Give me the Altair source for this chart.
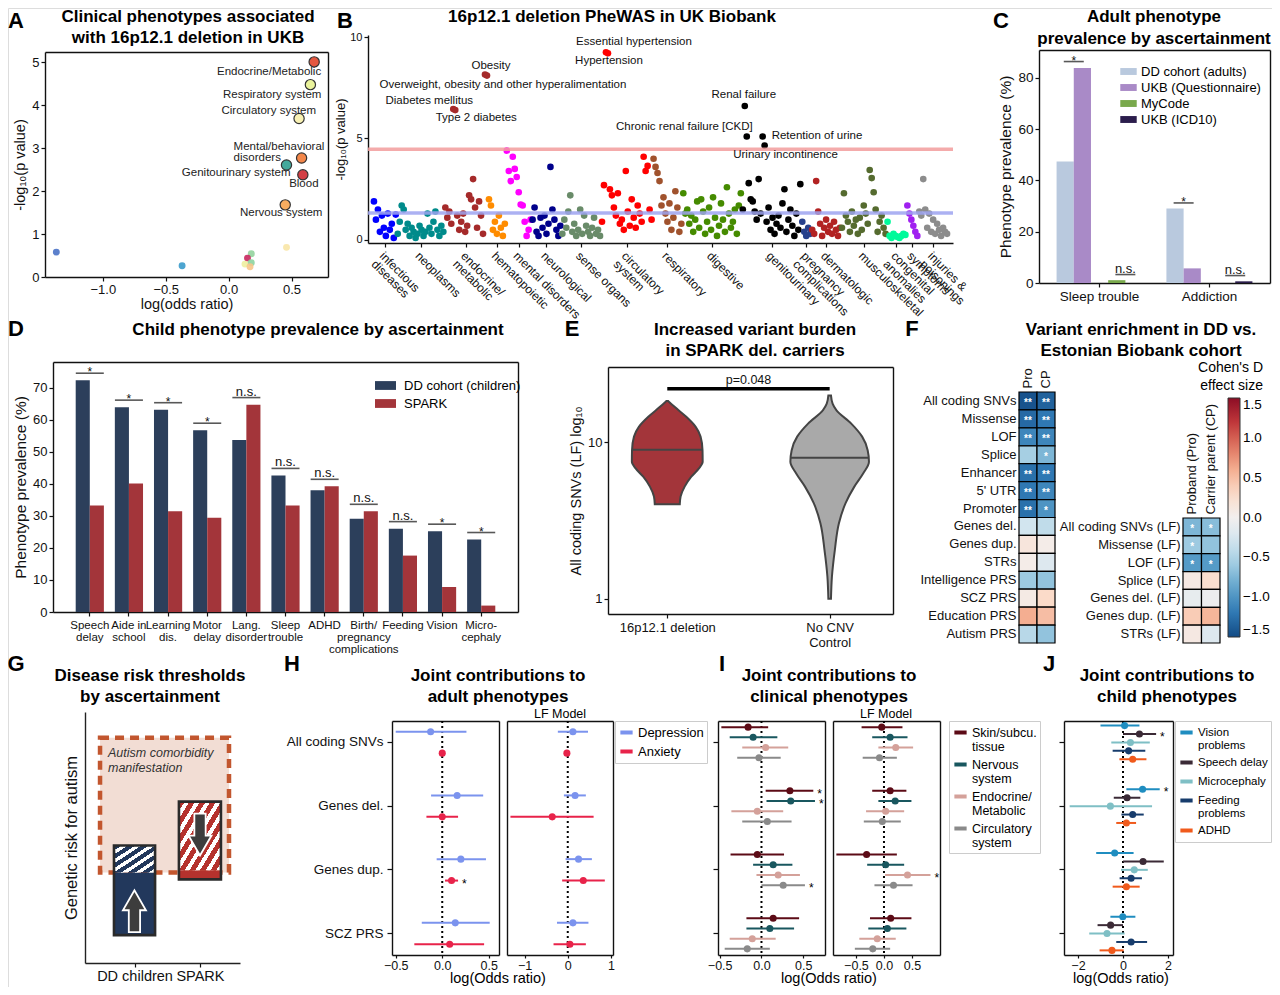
import json
import altair as alt
import pandas as pd

W, HT = 1264, 979
FONT = "Liberation Sans"
INK = "#111111"
ONE = alt.Data(values=[{"k": 0}])


def X(p):
    return p - 8


def Y(p):
    return p - 8


def axis(orient, pos, **kw):
    off = {"left": -X(pos), "right": X(pos) - W, "top": -Y(pos), "bottom": Y(pos) - HT}[orient]
    base = dict(orient=orient, offset=off, grid=False, domainColor=INK, domainWidth=1.4,
                tickColor=INK, tickWidth=1.2, tickSize=4, labelColor=INK, titleColor=INK,
                labelFont=FONT, titleFont=FONT, labelFontSize=12, titleFontSize=13.5,
                titleFontWeight="normal", labelPadding=2, titlePadding=4, title=None)
    base.update(kw)
    return alt.Axis(**base)


def frame(orient, pos):
    return axis(orient, pos, labels=False, ticks=False, title=None)


def txt(s, x, y, size=17, weight="bold", align="center", style=None, color="#000000", lh=None):
    mk = dict(font=FONT, fontSize=size, fontWeight=weight, align=align, baseline="middle", color=color)
    if style:
        mk["fontStyle"] = style
    if lh:
        mk["lineHeight"] = lh
    return alt.Chart(ONE).mark_text(**mk).encode(x=alt.value(X(x)), y=alt.value(Y(y)), text=alt.value(s))


def qs(dom, r0, r1, **kw):
    return alt.Scale(domain=dom, range=[r0, r1], nice=False, zero=False, **kw)


SPLIT = "split(datum.label, '\\n')"
RECT = "M-1,-0.42L1,-0.42L1,0.42L-1,0.42Z"

# ====================== DATA ======================
# A
A_name = ["Endocrine/Metabolic", "Respiratory system", "Circulatory system",
          "Mental/behavioral disorders", "Genitourinary system", "Blood", "Nervous system",
          "other 1", "other 2", "other 3", "other 4", "other 5", "other 6", "other 7", "other 8"]
A_lor = [0.68, 0.65, 0.56, 0.58, 0.46, 0.59, 0.45, -1.37, -0.37, 0.18, 0.15, 0.13, 0.18, 0.17, 0.46]
A_nlp = [5.01, 4.48, 3.69, 2.77, 2.61, 2.38, 1.68, 0.58, 0.26, 0.54, 0.44, 0.30, 0.33, 0.24, 0.69]
A_col = ["#e4573f", "#eaf39c", "#f8f1b4", "#f3874a", "#43a99c", "#d33f45", "#f8ad60",
         "#4a72c6", "#3a9bcb", "#93d39d", "#c8285e", "#eeee9e", "#8dd4a0", "#f7c58a", "#f8e6a6"]
A_lab = [True] * 7 + [False] * 8

# B
B_cats = ["infectious\ndiseases", "neoplasms", "endocrine/\nmetabolic", "hematopoietic",
          "mental disorders", "neurological", "sense organs", "circulatory\nsystem", "respiratory",
          "digestive", "genitourinary", "pregnancy\ncomplications", "dermatologic",
          "musculoskeletal", "congenital\nanomalies", "symptoms", "injuries &\npoisonings"]
B_colors = ["#0000ff", "#008b8b", "#a52a2a", "#ff8c00", "#ff00ff", "#00008b", "#698b69",
            "#ff0000", "#a0522d", "#458b00", "#000000", "#27408b", "#b22222", "#556b2f",
            "#00fa9a", "#a020f0", "#8c8c8c"]
B_vals = [
    [1.9, 1.0, 1.5, 0.4, 1.2, 0.6, 0.2, 1.3, 0.5, 0.8, 0.1, 1.25],
    [0.3, 0.9, 1.7, 1.5, 0.5, 0.8, 0.2, 0.6, 0.4, 0.1, 0.3, 0.7, 0.5, 0.2, 0.4, 1.3, 0.6, 0.3,
     0.9, 1.4, 0.5, 0.2, 0.7, 0.4],
    [1.6, 1.1, 1.4, 0.8, 6.45, 6.4, 1.2, 0.5, 0.9, 1.3, 0.4, 0.7, 2.2, 2.0, 3.0, 1.6, 0.6, 1.9,
     1.2, 0.3, 8.15, 8.1],
    [2.0, 1.7, 0.5, 0.9, 0.3, 1.2, 0.6, 0.2, 0.8],
    [4.4, 3.4, 2.9, 4.1, 3.5, 3.1, 2.35, 1.75, 1.7, 0.9, 0.2, 0.5, 1.0],
    [1.0, 1.6, 0.4, 0.2, 1.1, 0.6, 1.2, 0.3, 0.8, 3.6, 1.5, 1.0, 0.5, 0.2, 0.7],
    [0.3, 1.0, 0.6, 1.4, 2.2, 0.4, 0.8, 0.2, 0.5, 1.5, 0.3, 1.2, 0.7, 0.4, 0.2, 0.6, 1.1, 0.3,
     0.5, 0.2],
    [0.9, 2.7, 9.25, 9.2, 2.5, 2.2, 1.6, 1.2, 2.3, 0.8, 1.0, 0.5, 3.4, 1.4, 0.7, 2.0, 1.1, 0.6,
     1.7, 1.3, 0.9, 4.1, 3.4, 3.65, 1.5, 1.0],
    [4.0, 3.6, 3.3, 2.9, 1.7, 2.1, 1.3, 0.9, 1.8, 0.5, 1.1, 2.4, 1.6, 0.4, 0.8],
    [2.3, 1.3, 1.5, 0.8, 1.2, 0.4, 1.0, 1.9, 0.6, 2.0, 1.4, 0.3, 0.9, 1.6, 0.5, 2.1, 1.1, 0.2,
     0.7, 1.8, 1.0, 0.4, 2.6, 1.3, 0.6, 0.9, 1.5, 0.3, 1.7, 2.3],
    [1.5, 6.6, 5.1, 2.8, 2.0, 1.9, 1.4, 1.0, 3.0, 1.3, 5.1, 4.65, 0.9, 1.6, 0.5, 1.1, 0.3, 0.8,
     1.2, 0.6, 1.8, 2.5, 0.4, 1.0, 1.5, 0.7, 0.2, 1.3, 0.5, 2.75],
    [0.9, 0.4, 0.2, 0.6, 0.3],
    [0.5, 0.3, 2.9, 1.4, 0.8, 0.2, 0.6, 1.0, 0.4, 0.7, 0.3, 0.9, 0.5, 0.2, 0.6],
    [0.6, 2.3, 1.2, 0.9, 0.4, 1.4, 0.7, 1.0, 0.3, 1.1, 0.5, 1.7, 1.3, 0.8, 3.45, 3.05, 2.35, 1.5,
     0.4, 0.9, 1.2, 0.6, 0.3],
    [0.9, 0.2, 0.1, 0.3, 0.2, 0.15, 0.1, 0.2, 0.3, 0.25],
    [1.7, 1.3, 1.0, 0.7, 0.4, 0.2],
    [1.4, 1.2, 3.0, 1.5, 0.6, 1.3, 0.4, 1.0, 0.3, 0.8, 0.5, 0.2, 0.6, 0.4, 0.3],
]
B_hits = ["Essential hypertension", "Hypertension", "Obesity",
          "Overweight, obesity and other hyperalimentation", "Diabetes mellitus",
          "Type 2 diabetes", "Renal failure", "Chronic renal failure [CKD]",
          "Retention of urine", "Urinary incontinence"]
B_hit_cat = [7, 7, 2, 2, 2, 2, 10, 10, 10, 10]
B_hit_pos = [2, 3, 20, 21, 4, 5, 1, 2, 10, 11]
B_red_line = 4.47
B_blue_line = 1.33

# C
C_groups = ["Sleep trouble", "Addiction"]
C_series = ["DD cohort (adults)", "UKB (Questionnaire)", "MyCode", "UKB (ICD10)"]
C_slots = ["DD cohort (adults)", "UKB (Questionnaire)", " ", "MyCode", "UKB (ICD10)"]
C_colors = ["#b9c9de", "#a98ac7", "#79a94c", "#2b1d4c"]
C_sleep = [47.3, 83.8, 1.1, 0.0]
C_addict = [29.0, 5.7, 0.0, 0.65]
C_sig_group = ["Sleep trouble", "Sleep trouble", "Addiction", "Addiction"]
C_sig_pair = ["first", "last", "first", "last"]
C_sig_y = [86.3, 3.3, 31.2, 2.9]
C_sig_txt = ["*", "n.s.", "*", "n.s."]

# D
D_cats = ["Speech\ndelay", "Aide in\nschool", "Learning\ndis.", "Motor\ndelay", "Lang.\ndisorder",
          "Sleep\ntrouble", "ADHD", "Birth/\npregnancy\ncomplications", "Feeding", "Vision",
          "Micro-\ncephaly"]
D_groups = ["DD cohort (children)", "SPARK"]
D_colors = ["#2c3f5b", "#a3353a"]
D_dd = [72.3, 63.9, 63.1, 56.7, 53.7, 42.6, 38.0, 29.1, 26.0, 25.2, 22.6]
D_spark = [33.2, 40.1, 31.4, 29.4, 64.7, 33.2, 39.2, 31.4, 17.6, 7.8, 2.0]
D_sig = ["*", "*", "*", "*", "n.s.", "n.s.", "n.s.", "n.s.", "n.s.", "*", "*"]

# E
E_groups = ["16p12.1 deletion", "No CNV\nControl"]
E_colors = ["#a3353a", "#a9a9a9"]
E_del_v = [18.4, 16.9, 14.6, 12.6, 10.9, 8.93, 7.53, 6.83, 6.04, 5.22, 4.51, 4.03]
E_del_hw = [0.006, 0.045, 0.117, 0.175, 0.205, 0.217, 0.218, 0.195, 0.148, 0.107, 0.082, 0.077]
E_ctl_v = [20.0, 17.7, 16.1, 13.2, 10.9, 8.93, 7.53, 6.35, 5.22, 4.09, 3.05, 2.06, 1.39, 1.0]
E_ctl_hw = [0.008, 0.018, 0.041, 0.133, 0.2, 0.234, 0.242, 0.207, 0.152, 0.098, 0.057, 0.032,
            0.014, 0.008]
E_median = [9.0, 8.0]
E_median_hw = [0.216, 0.240]
E_p_y = 22.1
E_p_text = "p=0.048"

# F
F_rows = ["All coding SNVs", "Missense", "LOF", "Splice", "Enhancer", "5' UTR", "Promoter",
          "Genes del.", "Genes dup.", "STRs", "Intelligence PRS", "SCZ PRS", "Education PRS",
          "Autism PRS"]
F_pro = [-1.45, -1.3, -1.1, -0.55, -1.25, -1.2, -1.25, -0.3, 0.15, 0.05, -0.6, 0.08, 0.6, -0.45]
F_cp = [-1.35, -1.2, -1.1, -0.75, -1.2, -1.1, -1.0, -0.4, 0.05, -0.2, -0.65, 0.3, 0.5, -0.65]
F_pro_sig = ["**", "**", "**", "", "**", "**", "**", "", "", "", "", "", "", ""]
F_cp_sig = ["**", "**", "**", "*", "**", "**", "*", "", "", "", "", "", "", ""]
F2_rows = ["All coding SNVs (LF)", "Missense (LF)", "LOF (LF)", "Splice (LF)", "Genes del. (LF)",
           "Genes dup. (LF)", "STRs (LF)"]
F2_pro = [-0.75, -0.6, -0.95, 0.1, -0.1, 0.4, 0.1]
F2_cp = [-0.7, -0.65, -0.95, 0.25, -0.05, 0.55, -0.2]
F2_pro_sig = ["*", "*", "*", "", "", "", ""]
F2_cp_sig = ["*", "", "*", "", "", "", ""]

# G (schematic, arbitrary units)
G_groups = ["DD children", "SPARK"]
G_shape = ["region", "dd_base", "dd_hatch", "spark_hatch", "spark_base", "dd_box", "spark_box"]
G_x0 = [0.97, 1.87, 1.87, 6.06, 6.06, 1.87, 6.06]
G_x1 = [9.29, 4.52, 4.52, 8.77, 8.77, 4.52, 8.77]
G_y0 = [3.61, 1.11, 3.61, 3.69, 3.33, 1.11, 3.33]
G_y1 = [8.97, 3.61, 4.68, 6.43, 3.69, 4.68, 6.43]
G_arrow_x = [3.19, 7.42]
G_arrow_y = [2.06, 5.12]

# H
H_rows = ["All coding SNVs", "Genes del.", "Genes dup.", "SCZ PRS"]
H_series = ["Depression", "Anxiety"]
H_colors = ["#7b93ee", "#e8234a"]
H_main = {"Depression": ([-0.125, 0.16, 0.20, 0.14], [-0.50, -0.12, -0.06, -0.22], [0.26, 0.44, 0.47, 0.51]),
          "Anxiety": ([0.0, 0.0, 0.10, 0.08], [-0.012, -0.17, 0.03, -0.30], [0.012, 0.17, 0.17, 0.45])}
H_main_star = {"Anxiety": ["", "", "*", ""]}
H_lf = {"Depression": ([0.12, 0.17, 0.25, 0.12], [-0.23, -0.09, -0.05, -0.25], [0.47, 0.42, 0.56, 0.48]),
        "Anxiety": ([-0.02, -0.36, 0.36, 0.05], [-0.035, -1.33, -0.13, -0.33], [-0.005, 0.60, 0.86, 0.42])}

# I
I_series = ["Skin/subcu.\ntissue", "Nervous\nsystem", "Endocrine/\nMetabolic", "Circulatory\nsystem"]
I_colors = ["#5c0b16", "#19575f", "#d4a19a", "#8a8a8a"]
I_main = {
    I_series[0]: ([-0.16, 0.34, -0.05, 0.14], [-0.48, 0.05, -0.37, -0.18], [0.08, 0.62, 0.27, 0.45]),
    I_series[1]: ([-0.10, 0.35, 0.14, 0.10], [-0.38, 0.06, -0.10, -0.18], [0.19, 0.64, 0.37, 0.39]),
    I_series[2]: ([0.05, -0.05, 0.20, -0.11], [-0.23, -0.36, -0.06, -0.38], [0.32, 0.26, 0.46, 0.17]),
    I_series[3]: ([-0.03, 0.07, 0.26, -0.17], [-0.29, -0.23, 0.0, -0.44], [0.23, 0.36, 0.52, 0.10]),
}
I_main_star = {I_series[0]: ["", "*", "", ""], I_series[1]: ["", "*", "", ""],
               I_series[3]: ["", "", "*", ""]}
I_lf = {
    I_series[0]: ([-0.04, 0.11, -0.31, 0.12], [-0.40, -0.21, -0.85, -0.25], [0.33, 0.40, 0.23, 0.49]),
    I_series[1]: ([0.11, 0.20, 0.03, 0.06], [-0.21, -0.10, -0.30, -0.28], [0.42, 0.49, 0.36, 0.40]),
    I_series[2]: ([0.21, 0.03, 0.42, -0.12], [-0.10, -0.32, 0.02, -0.44], [0.52, 0.36, 0.83, 0.21]),
    I_series[3]: ([-0.08, -0.03, 0.17, -0.20], [-0.38, -0.36, -0.17, -0.52], [0.23, 0.30, 0.51, 0.11]),
}
I_lf_star = {I_series[2]: ["", "", "*", ""]}

# J
J_series = ["Vision\nproblems", "Speech delay", "Microcephaly", "Feeding\nproblems", "ADHD"]
J_colors = ["#1f8dc0", "#3b2a36", "#7fbfc5", "#173c6c", "#f05a1c"]
J_main = {
    J_series[0]: ([0.07, 0.87, -0.37, -0.01], [-1.0, 0.15, -1.19, -0.56], [0.73, 1.63, 0.47, 0.55]),
    J_series[1]: ([0.73, 0.18, 0.89, -0.55], [0.0, -0.41, 0.0, -1.13], [1.47, 0.77, 1.81, 0.0]),
    J_series[2]: ([0.33, -0.56, 0.50, -0.71], [-0.52, -2.37, -0.09, -1.50], [1.19, 1.29, 1.10, 0.07]),
    J_series[3]: ([0.25, 0.43, 0.36, 0.36], [-0.46, -0.07, -0.15, -0.30], [0.99, 0.92, 0.84, 1.07]),
    J_series[4]: ([0.43, 0.15, 0.15, -0.49], [-0.16, -0.30, -0.46, -1.04], [1.04, 0.58, 0.74, 0.03]),
}
J_star = {J_series[0]: ["", "*", "", ""], J_series[1]: ["*", "", "", ""]}

panels = []

# ====================== PANEL A ======================
a_df = pd.DataFrame(dict(name=A_name, lor=A_lor, nlp=A_nlp, lab=A_lab))
ax_ = qs([-1.46, 0.79], X(45), X(328))
ay_ = qs([0, 5.24], Y(277), Y(52))
acol = alt.Color("name:N", scale=alt.Scale(domain=A_name, range=A_col), legend=None)
bA = alt.Chart(a_df)
a_layers = [
    bA.transform_filter("!datum.lab").mark_circle(size=48, opacity=0.9).encode(
        x=alt.X("lor:Q", scale=ax_, axis=axis("bottom", 277, values=[-1, -0.5, 0, 0.5], format=".1f",
                                             title="log(odds ratio)", labelFontSize=13, titleFontSize=14.5,
                                             titlePadding=1)),
        y=alt.Y("nlp:Q", scale=ay_, axis=axis("left", 45, values=[0, 1, 2, 3, 4, 5], labelFontSize=13,
                                             title="-log₁₀(p value)", titleFontSize=14.5)),
        color=acol),
    bA.transform_filter("datum.lab").mark_circle(size=105, opacity=1, stroke="#333333", strokeWidth=1.2).encode(
        x=alt.X("lor:Q", scale=ax_, axis=frame("top", 52)),
        y=alt.Y("nlp:Q", scale=ay_, axis=frame("right", 328)),
        color=acol),
]
A_label_style = {
    "Endocrine/Metabolic": ("right", 7, 10),
    "Respiratory system": ("right", 11, 10),
    "Circulatory system": ("right", 17, -8),
    "Mental/behavioral disorders": ("left", -68, -11),
    "Genitourinary system": ("right", 4, 8),
    "Blood": ("center", 1, 9),
    "Nervous system": ("center", -4, 8),
}
for nm, (al, ddx, ddy) in A_label_style.items():
    disp = ["Mental/behavioral", "disorders"] if nm.startswith("Mental") else nm
    a_layers.append(bA.transform_filter(alt.datum.name == nm).mark_text(
        align=al, dx=ddx, dy=ddy, fontSize=11.5, font=FONT, color="#222222", baseline="middle",
        lineHeight=10.5).encode(
        x=alt.X("lor:Q", scale=ax_, axis=None), y=alt.Y("nlp:Q", scale=ay_, axis=None),
        text=alt.value(disp)))
panels.append(alt.layer(*a_layers).resolve_axis(x="independent", y="independent"))

# ====================== PANEL B ======================
recs = []
centers = []
idx = 0
for c, vals in zip(B_cats, B_vals):
    centers.append(idx + (len(vals) - 1) / 2)
    for v in vals:
        recs.append(dict(i=idx, cat=c, v=v, hit=""))
        idx += 1
starts = [0]
for vals in B_vals[:-1]:
    starts.append(starts[-1] + len(vals))
for h, ci, p in zip(B_hits, B_hit_cat, B_hit_pos):
    recs[starts[ci] + p]["hit"] = h
b_df = pd.DataFrame(recs)
B_dom = [-3, idx + 2]
bx_ = qs(B_dom, X(368), X(953))
by_ = qs([-0.15, 10.1], Y(243), Y(35))
b_label_expr = "split(%s[indexof(%s, datum.value)], '\\n')" % (json.dumps(B_cats), json.dumps(centers))
bB = alt.Chart(b_df)
b_layers = [
    bB.mark_circle(size=44, opacity=1).encode(
        x=alt.X("i:Q", scale=bx_, axis=axis("bottom", 243, values=centers, labelExpr=b_label_expr,
                                           labelAngle=45, labelAlign="left", labelBaseline="top",
                                           labelFontSize=12, labelLineHeight=11.5, labelPadding=3,
                                           labelOverlap=False, labelBound=False)),
        y=alt.Y("v:Q", scale=by_, axis=axis("left", 368, values=[0, 5, 10], labelFontSize=11,
                                           title="-log₁₀(p value)", titleFontSize=13, titlePadding=2)),
        color=alt.Color("cat:N", scale=alt.Scale(domain=B_cats, range=B_colors), legend=None)),
]
for yv, colr in [(B_red_line, "#f29c9c"), (B_blue_line, "#9ea3f0")]:
    b_layers.append(alt.Chart(ONE).mark_rule(color=colr, strokeWidth=3.5, opacity=0.85).encode(
        x=alt.XDatum(B_dom[0], scale=bx_, axis=None), x2=alt.X2Datum(B_dom[1]),
        y=alt.YDatum(yv, scale=by_, axis=None)))
B_label_style = {
    "Essential hypertension": ("center", 28, -10),
    "Hypertension": ("center", 1, 8),
    "Obesity": ("center", 6, -9),
    "Overweight, obesity and other hyperalimentation": ("center", 16, 9),
    "Diabetes mellitus": ("center", -24, -8),
    "Type 2 diabetes": ("center", 21, 8),
    "Renal failure": ("center", -1, -11),
    "Chronic renal failure [CKD]": ("right", 6, -9),
    "Retention of urine": ("left", 9, 0),
    "Urinary incontinence": ("center", 21, 9),
}
for h, (al, ddx, ddy) in B_label_style.items():
    b_layers.append(bB.transform_filter(alt.datum.hit == h).mark_text(
        align=al, dx=ddx, dy=ddy, fontSize=11.5, font=FONT, color="#111111", baseline="middle").encode(
        x=alt.X("i:Q", scale=bx_, axis=None), y=alt.Y("v:Q", scale=by_, axis=None), text="hit:N"))
panels.append(alt.layer(*b_layers).resolve_axis(x="independent", y="independent"))

# ====================== PANEL C ======================
c_recs = []
for g, vals in zip(C_groups, [C_sleep, C_addict]):
    for s, v in zip(C_series, vals):
        c_recs.append(dict(g=g, s=s, v=v))
c_df = pd.DataFrame(c_recs)
cx_ = alt.Scale(domain=C_groups, range=[X(1039), X(1270)], paddingInner=0.217, paddingOuter=0.16)
cy_ = qs([0, 90.8], Y(283), Y(50))
c_sig = pd.DataFrame(dict(g=C_sig_group, pair=C_sig_pair, y=C_sig_y, t=C_sig_txt))
c_layers = [
    alt.Chart(c_df).mark_bar().encode(
        x=alt.X("g:N", scale=cx_, axis=axis("bottom", 283, labelAngle=0, labelFontSize=13.5, tickSize=4)),
        xOffset=alt.XOffset("s:N", scale=alt.Scale(domain=C_slots, paddingInner=0, paddingOuter=0)),
        y=alt.Y("v:Q", scale=cy_, axis=axis("left", 1039, values=[0, 20, 40, 60, 80], labelFontSize=13.5,
                                           title="Phenotype prevalence (%)", titleFontSize=15.5)),
        color=alt.Color("s:N", scale=alt.Scale(domain=C_series, range=C_colors),
                        legend=alt.Legend(orient="none", legendX=X(1120), legendY=Y(63), title=None,
                                          labelFontSize=13, labelFont=FONT, symbolType=RECT,
                                          symbolSize=270, symbolStrokeWidth=0, rowPadding=-3,
                                          labelOffset=4, padding=0))),
    alt.Chart(c_df).mark_point(opacity=0).encode(
        x=alt.X("g:N", scale=cx_, axis=frame("top", 50)),
        y=alt.Y("v:Q", scale=cy_, axis=frame("right", 1270))),
]
for pair, off in [("first", -25.8), ("last", 25.8)]:
    sub = alt.Chart(c_sig).transform_filter(alt.datum.pair == pair)
    c_layers.append(sub.mark_tick(size=20, thickness=1.6, color=INK, xOffset=off).encode(
        x=alt.X("g:N", scale=cx_, axis=None), y=alt.Y("y:Q", scale=cy_, axis=None)))
    c_layers.append(sub.transform_filter("datum.t == '*'").mark_text(
        xOffset=off, dy=3, fontSize=12, font=FONT, baseline="alphabetic", color=INK).encode(
        x=alt.X("g:N", scale=cx_, axis=None), y=alt.Y("y:Q", scale=cy_, axis=None), text="t:N"))
    c_layers.append(sub.transform_filter("datum.t != '*'").mark_text(
        xOffset=off, dy=-2, fontSize=13, font=FONT, baseline="alphabetic", color=INK).encode(
        x=alt.X("g:N", scale=cx_, axis=None), y=alt.Y("y:Q", scale=cy_, axis=None), text="t:N"))
panels.append(alt.layer(*c_layers).resolve_axis(x="independent", y="independent"))

# ====================== PANEL D ======================
d_recs = []
for c, a, b in zip(D_cats, D_dd, D_spark):
    d_recs.append(dict(c=c, g=D_groups[0], v=a))
    d_recs.append(dict(c=c, g=D_groups[1], v=b))
d_df = pd.DataFrame(d_recs)
d_br = pd.DataFrame(dict(c=D_cats, y=[max(a, b) + 2.2 for a, b in zip(D_dd, D_spark)], t=D_sig))
dx_ = alt.Scale(domain=D_cats, range=[X(53), X(518)], paddingInner=0.28, paddingOuter=0.58)
dy_ = qs([0, 78], Y(612), Y(362))
d_layers = [
    alt.Chart(d_df).mark_bar().encode(
        x=alt.X("c:N", scale=dx_, axis=axis("bottom", 612, labelExpr=SPLIT, labelAngle=0, labelFontSize=11.5,
                                           labelLineHeight=12, tickSize=4, labelPadding=3,
                                           labelOverlap=False)),
        xOffset=alt.XOffset("g:N", scale=alt.Scale(domain=D_groups, paddingInner=0, paddingOuter=0)),
        y=alt.Y("v:Q", scale=dy_, axis=axis("left", 53, values=list(range(0, 71, 10)), labelFontSize=13,
                                           title="Phenotype prevalence (%)", titleFontSize=15.5)),
        color=alt.Color("g:N", scale=alt.Scale(domain=D_groups, range=D_colors),
                        legend=alt.Legend(orient="none", legendX=X(375), legendY=Y(375), title=None,
                                          labelFontSize=13, labelFont=FONT, symbolType=RECT,
                                          symbolSize=440, symbolStrokeWidth=0, rowPadding=-1,
                                          labelOffset=8, padding=0))),
    alt.Chart(d_df).mark_point(opacity=0).encode(
        x=alt.X("c:N", scale=dx_, axis=frame("top", 362)),
        y=alt.Y("v:Q", scale=dy_, axis=frame("right", 518))),
    alt.Chart(d_br).mark_tick(size=28, thickness=1.6, color=INK).encode(
        x=alt.X("c:N", scale=dx_, axis=None), y=alt.Y("y:Q", scale=dy_, axis=None)),
    alt.Chart(d_br).transform_filter("datum.t == '*'").mark_text(
        dy=3, fontSize=12, font=FONT, baseline="alphabetic", color=INK).encode(
        x=alt.X("c:N", scale=dx_, axis=None), y=alt.Y("y:Q", scale=dy_, axis=None), text="t:N"),
    alt.Chart(d_br).transform_filter("datum.t != '*'").mark_text(
        dy=-2, fontSize=13, font=FONT, baseline="alphabetic", color=INK).encode(
        x=alt.X("c:N", scale=dx_, axis=None), y=alt.Y("y:Q", scale=dy_, axis=None), text="t:N"),
]
panels.append(alt.layer(*d_layers).resolve_axis(x="independent", y="independent"))

# ====================== PANEL E ======================
e_recs = []
for gi, (vals, hws) in enumerate([(E_del_v, E_del_hw), (E_ctl_v, E_ctl_hw)]):
    for v, hw in zip(vals, hws):
        e_recs.append(dict(g=E_groups[gi], v=v, lo=gi - hw, hi=gi + hw))
e_df = pd.DataFrame(e_recs).sort_values(["g", "v"])
e_med = pd.DataFrame(dict(g=E_groups, v=E_median, lo=[i - h for i, h in enumerate(E_median_hw)],
                          hi=[i + h for i, h in enumerate(E_median_hw)]))
ex_ = qs([-0.365, 1.39], X(608), X(893))
ey_ = alt.Scale(type="log", domain=[0.8, 30.4], range=[Y(614), Y(367)], nice=False)
e_xlabel = "split(%s[datum.value], '\\n')" % json.dumps(E_groups)
e_layers = [
    alt.Chart(e_df).mark_area(orient="horizontal", stroke="#444444", strokeWidth=2,
                              interpolate="monotone", opacity=1).encode(
        y=alt.Y("v:Q", scale=ey_, axis=axis("left", 608, values=[1, 10], format="d", labelFontSize=13,
                                           title="All coding SNVs (LF) log₁₀", titleFontSize=14.5)),
        x=alt.X("lo:Q", scale=ex_, axis=axis("bottom", 614, values=[0, 1], labelExpr=e_xlabel,
                                            labelFontSize=13, labelLineHeight=15, tickSize=4,
                                            labelPadding=3)),
        x2="hi:Q",
        color=alt.Color("g:N", scale=alt.Scale(domain=E_groups, range=E_colors), legend=None)),
    alt.Chart(e_med).mark_rule(color="#444444", strokeWidth=2).encode(
        x=alt.X("lo:Q", scale=ex_, axis=frame("top", 367)), x2="hi:Q",
        y=alt.Y("v:Q", scale=ey_, axis=frame("right", 893))),
    alt.Chart(ONE).mark_rule(color="#000000", strokeWidth=3.5).encode(
        x=alt.XDatum(0, scale=ex_, axis=None), x2=alt.X2Datum(1),
        y=alt.YDatum(E_p_y, scale=ey_, axis=None)),
    alt.Chart(ONE).mark_text(fontSize=12.5, font=FONT, dy=-9, color=INK).encode(
        x=alt.XDatum(0.5, scale=ex_, axis=None), y=alt.YDatum(E_p_y, scale=ey_, axis=None),
        text=alt.value(E_p_text)),
]
panels.append(alt.layer(*e_layers).resolve_axis(x="independent", y="independent"))


# ====================== PANEL F ======================
def heat(rows, cols, v1, v2, s1, s2, xl, xr, yt, yb, legend):
    recs = []
    for r, a, b, sa, sb in zip(rows, v1, v2, s1, s2):
        recs.append(dict(r=r, c=cols[0], v=a, s=sa))
        recs.append(dict(r=r, c=cols[1], v=b, s=sb))
    df = pd.DataFrame(recs)
    xs = alt.Scale(domain=cols, range=[X(xl), X(xr)], paddingInner=0, paddingOuter=0)
    ys = alt.Scale(domain=rows, range=[Y(yt), Y(yb)], paddingInner=0, paddingOuter=0)
    col = alt.Color("v:Q", scale=alt.Scale(domain=[-1.5, 1.5], scheme="redblue", reverse=True),
                    legend=legend)
    return alt.layer(
        alt.Chart(df).mark_rect(stroke="#000000", strokeWidth=1.2).encode(
            x=alt.X("c:N", scale=xs, axis=axis("top", yt, domain=False, ticks=False, labelAngle=270,
                                              labelAlign="left", labelBaseline="middle",
                                              labelFontSize=13, labelPadding=4)),
            y=alt.Y("r:N", scale=ys, axis=axis("left", xl, domain=False, ticks=False, labelFontSize=13,
                                              labelPadding=3)),
            color=col),
        alt.Chart(df).mark_text(color="#ffffff", fontSize=10, fontWeight="bold", dy=2).encode(
            x=alt.X("c:N", scale=xs, axis=None), y=alt.Y("r:N", scale=ys, axis=None), text="s:N"),
    ).resolve_axis(x="independent", y="independent")


panels.append(heat(F_rows, ["Pro", "CP"], F_pro, F_cp, F_pro_sig, F_cp_sig, 1019, 1055, 392, 643,
                   alt.Legend(orient="none", legendX=X(1228), legendY=Y(398), title=None,
                              gradientLength=239, gradientThickness=12, direction="vertical",
                              values=[-1.5, -1.0, -0.5, 0.0, 0.5, 1.0, 1.5], format=".1f",
                              labelFontSize=13.5, labelFont=FONT, labelOffset=3,
                              gradientStrokeColor="#333333", gradientStrokeWidth=1)))
panels.append(heat(F2_rows, ["Proband (Pro)", "Carrier parent (CP)"], F2_pro, F2_cp, F2_pro_sig,
                   F2_cp_sig, 1183, 1220, 518, 643, None))

# ====================== PANEL G ======================
g_df = pd.DataFrame(dict(shape=G_shape, x0=G_x0, x1=G_x1, y0=G_y0, y1=G_y1))
gx_ = qs([0, 10], X(85), X(240))
gy_ = qs([0, 10], Y(963), Y(712))
g_centers = [
    (G_x0[G_shape.index("dd_box")] + G_x1[G_shape.index("dd_box")]) / 2,
    (G_x0[G_shape.index("spark_box")] + G_x1[G_shape.index("spark_box")]) / 2,
]
g_label_expr = "%s[indexof(%s, datum.value)]" % (json.dumps(G_groups), json.dumps(g_centers))


def stripes(c1, c2, n, frac=0.55):
    stops = []
    for k in range(n):
        a, b, e = k / n, (k + frac) / n, (k + 1) / n
        stops += [alt.GradientStop(color=c1, offset=a), alt.GradientStop(color=c1, offset=b),
                  alt.GradientStop(color=c2, offset=b), alt.GradientStop(color=c2, offset=e)]
    return alt.LinearGradient(gradient="linear", stops=stops, x1=0, y1=0, x2=1, y2=1)


def gshape(name, **mk):
    return alt.Chart(g_df).transform_filter(alt.datum.shape == name).mark_rect(**mk).encode(
        x=alt.X("x0:Q", scale=gx_, axis=None), x2="x1:Q",
        y=alt.Y("y0:Q", scale=gy_, axis=None), y2="y1:Q")


UP = "M-0.27,1L-0.27,-0.05L-0.55,-0.05L0,-1L0.55,-0.05L0.27,-0.05L0.27,1Z"
DOWN = "M-0.27,-1L-0.27,0.05L-0.55,0.05L0,1L0.55,0.05L0.27,0.05L0.27,-1Z"
g_arr = pd.DataFrame(dict(x=G_arrow_x, y=G_arrow_y, g=G_groups))
g_layers = [
    alt.Chart(g_df).transform_filter(alt.datum.shape == "region").mark_rect(
        fill="#f2ddd4", stroke="#c2562e", strokeWidth=4.5, strokeDash=[9, 6]).encode(
        x=alt.X("x0:Q", scale=gx_, axis=axis("bottom", 963, values=g_centers, labelExpr=g_label_expr,
                                            labelFontSize=14.5, tickSize=4, labelPadding=2,
                                            domainColor="#222222")),
        x2="x1:Q",
        y=alt.Y("y0:Q", scale=gy_, axis=axis("left", 85, labels=False, ticks=False,
                                            title="Genetic risk for autism", titleFontSize=16.5,
                                            titlePadding=6, domainColor="#222222")),
        y2="y1:Q"),
    gshape("dd_base", fill="#22385c"),
    gshape("dd_hatch", fill=stripes("#22385c", "#ffffff", 6)),
    gshape("spark_hatch", fill=stripes("#b5322d", "#ffffff", 8)),
    gshape("spark_base", fill="#b5322d"),
    gshape("dd_box", fillOpacity=0, stroke="#2a2a2a", strokeWidth=2.6),
    gshape("spark_box", fillOpacity=0, stroke="#2a2a2a", strokeWidth=2.6),
    alt.Chart(g_arr).transform_filter(alt.datum.g == G_groups[0]).mark_point(
        shape=UP, size=1750, filled=True, fill="#3d3d3d", stroke="#ffffff", strokeWidth=1.8,
        opacity=1).encode(x=alt.X("x:Q", scale=gx_, axis=None), y=alt.Y("y:Q", scale=gy_, axis=None)),
    alt.Chart(g_arr).transform_filter(alt.datum.g == G_groups[1]).mark_point(
        shape=DOWN, size=1750, filled=True, fill="#3d3d3d", stroke="#ffffff", strokeWidth=1.8,
        opacity=1).encode(x=alt.X("x:Q", scale=gx_, axis=None), y=alt.Y("y:Q", scale=gy_, axis=None)),
]
panels.append(alt.layer(*g_layers).resolve_axis(x="independent", y="independent"))

# ====================== FOREST PANELS ======================
FT, FB = 721, 955


def forest(rows, series, colors, vals, stars, xdom, xl, xr, xvals, xfmt, ymode, ypo, legend):
    recs = []
    for s in series:
        est, lo, hi = vals[s]
        st = stars.get(s, [""] * len(rows))
        for r, e, l, h, t in zip(rows, est, lo, hi, st):
            recs.append(dict(row=r, ser=s, est=e, lo=l, hi=h, star=t))
    df = pd.DataFrame(recs)
    xs = qs(xdom, X(xl), X(xr))
    ys = alt.Scale(domain=rows, range=[Y(FT), Y(FB)], paddingInner=0.327, paddingOuter=0)
    yo = alt.YOffset("ser:N", scale=alt.Scale(domain=series, paddingInner=0, paddingOuter=ypo))
    col = alt.Color("ser:N", scale=alt.Scale(domain=series, range=colors), legend=legend)
    if ymode == "labels":
        yax = axis("left", xl, labelFontSize=13.5, tickSize=5, labelPadding=4)
    elif ymode == "ticks":
        yax = axis("left", xl, labels=False, tickSize=5)
    else:
        yax = frame("left", xl)
    base = alt.Chart(df)
    return alt.layer(
        alt.Chart(ONE).mark_rule(strokeDash=[2, 3], strokeWidth=2, color="#000000").encode(
            x=alt.XDatum(0, scale=xs, axis=None), y=alt.value(Y(FT)), y2=alt.value(Y(FB))),
        base.mark_rule(strokeWidth=2).encode(
            x=alt.X("lo:Q", scale=xs, axis=None), x2="hi:Q",
            y=alt.Y("row:N", scale=ys, axis=None), yOffset=yo, color=col),
        base.mark_circle(size=50, opacity=1).encode(
            x=alt.X("est:Q", scale=xs, axis=axis("bottom", FB, values=xvals, format=xfmt,
                                                labelFontSize=12.5, tickSize=3, labelPadding=1)),
            y=alt.Y("row:N", scale=ys, axis=yax), yOffset=yo, color=col),
        base.transform_filter("datum.star != ''").mark_text(
            align="left", dx=4, dy=3, fontSize=12, font=FONT, color="#000000").encode(
            x=alt.X("hi:Q", scale=xs, axis=None), y=alt.Y("row:N", scale=ys, axis=None),
            yOffset=yo, text="star:N"),
        base.mark_point(opacity=0).encode(
            x=alt.X("est:Q", scale=xs, axis=frame("top", FT)),
            y=alt.Y("row:N", scale=ys, axis=frame("right", xr))),
    ).resolve_axis(x="independent", y="independent")


def fleg(x, y, size=13):
    return alt.Legend(orient="none", legendX=X(x), legendY=Y(y), title=None, symbolType="stroke",
                      symbolStrokeWidth=4, symbolSize=150, labelFontSize=size, labelFont=FONT,
                      labelExpr=SPLIT, strokeColor="#cccccc", padding=3, rowPadding=2,
                      labelOffset=3, fillColor="#ffffff")


panels.append(forest(H_rows, H_series, H_colors, H_main, H_main_star, [-0.54, 0.61], 392, 499,
                     [-0.5, 0, 0.5], ".1f", "labels", 0.0, None))
panels.append(forest(H_rows, H_series, H_colors, H_lf, {}, [-1.41, 1.05], 507, 613,
                     [-1, 0, 1], "d", "frame", 0.0, fleg(615, FT, 13)))
panels.append(forest(H_rows, I_series, I_colors, I_main, I_main_star, [-0.52, 0.76], 718, 825,
                     [-0.5, 0, 0.5], ".1f", "ticks", 0.1, None))
panels.append(forest(H_rows, I_series, I_colors, I_lf, I_lf_star, [-0.91, 1.0], 833, 940,
                     [-0.5, 0, 0.5], ".1f", "frame", 0.1, fleg(949, FT, 12.5)))
panels.append(forest(H_rows, J_series, J_colors, J_main, J_star, [-2.62, 2.22], 1064, 1173,
                     [-2, 0, 2], "d", "ticks", 0.05, fleg(1175, FT, 11.5)))

# ====================== TEXT (titles, letters) ======================
for letter, lx, ly in [("A", 16, 21), ("B", 345, 21), ("C", 1001, 21), ("D", 16, 329), ("E", 572, 329),
                       ("F", 912, 329), ("G", 16, 664), ("H", 292, 664), ("I", 722, 664), ("J", 1049, 664)]:
    panels.append(txt(letter, lx, ly, size=22))
panels += [
    txt(["Clinical phenotypes associated", "with 16p12.1 deletion in UKB"], 188, 17, lh=21),
    txt("16p12.1 deletion PheWAS in UK Biobank", 612, 17),
    txt(["Adult phenotype", "prevalence by ascertainment"], 1154, 17, lh=22),
    txt("Child phenotype prevalence by ascertainment", 318, 330),
    txt(["Increased variant burden", "in SPARK del. carriers"], 755, 330, lh=21),
    txt(["Variant enrichment in DD vs.", "Estonian Biobank cohort"], 1141, 330, lh=21),
    txt(["Cohen's D", "effect size"], 1263, 368, size=14, weight="normal", align="right", lh=18),
    txt(["Disease risk thresholds", "by ascertainment"], 150, 676, lh=21),
    txt(["Joint contributions to", "adult phenotypes"], 498, 676, lh=21),
    txt(["Joint contributions to", "clinical phenotypes"], 829, 676, lh=21),
    txt(["Joint contributions to", "child phenotypes"], 1167, 676, lh=21),
    txt("LF Model", 560, 714, size=12.5, weight="normal"),
    txt("LF Model", 886, 714, size=12.5, weight="normal"),
    txt("log(Odds ratio)", 498, 979, size=14.5, weight="normal"),
    txt("log(Odds ratio)", 829, 979, size=14.5, weight="normal"),
    txt("log(Odds ratio)", 1121, 979, size=14.5, weight="normal"),
    txt(["Autism comorbidity", "manifestation"], 108, 753, size=12.5, weight="normal", align="left",
        style="italic", color="#333333", lh=15),
]

chart = alt.layer(*panels).resolve_scale(
    x="independent", y="independent", color="independent", xOffset="independent",
    yOffset="independent").resolve_axis(x="independent", y="independent").resolve_legend(
    color="independent").properties(
    width=W, height=HT, padding=0, autosize=alt.AutoSizeParams(type="none"), background="#ffffff"
).configure_view(strokeWidth=0).configure(font=FONT)

chart.save("out.html", embed_options={"renderer": "svg", "actions": False})
